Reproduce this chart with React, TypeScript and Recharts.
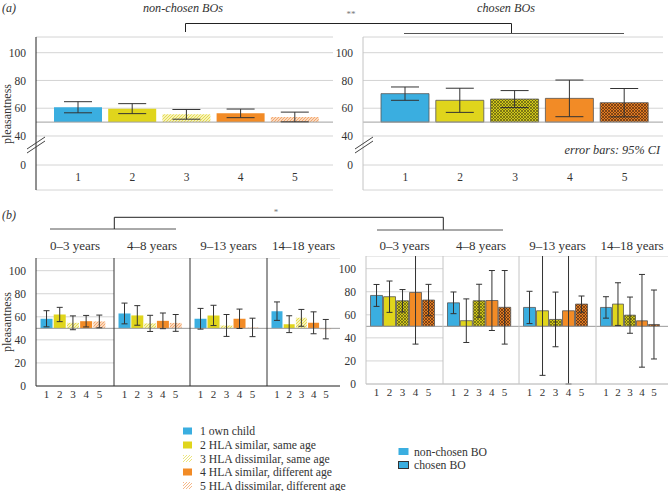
import React from "react";
import { BarChart, Bar, XAxis, YAxis, CartesianGrid, ErrorBar, Cell, ReferenceLine } from "recharts";

const categories = ["1", "2", "3", "4", "5"];
const legendLabels = [
  "1 own child",
  "2 HLA similar, same age",
  "3 HLA dissimilar, same age",
  "4 HLA similar, different age",
  "5 HLA dissimilar, different age",
];
const ageGroups = ["0–3 years", "4–8 years", "9–13 years", "14–18 years"];
const aTicks = [19.1, 40, 60, 80, 100];
const bTicks = [0, 20, 40, 60, 80, 100];

// (a) pooled
const nonChosenMeans = [60.7, 59.7, 55.6, 56.3, 53.7];
const nonChosenCI = [4, 3.6, 3.5, 3.1, 3.5];
const chosenMeans = [70.5, 65.7, 66.6, 67.1, 64];
const chosenCI = [4.8, 8.7, 6.1, 13.2, 10.2];

// (b) by age of the child
const nonChosenAgeMeans = [
  [58.3, 62, 54.8, 56.2, 56],
  [62.9, 61.2, 54.3, 56.5, 54.7],
  [58.3, 61.2, 52.5, 58.3, 50.8],
  [64.9, 53.6, 59.1, 54.8, 49.3],
];
const nonChosenAgeCI = [
  [7, 6.2, 6, 5, 5.5],
  [9, 8.5, 7, 6.8, 7.3],
  [9, 8.8, 9.5, 8.4, 8],
  [8, 7.3, 7.3, 9.5, 8.4],
];
const chosenAgeMeans = [
  [76.8, 75.7, 72.2, 79.4, 72.8],
  [70.4, 54.9, 72.2, 72.4, 66.5],
  [66.4, 63.5, 56, 63.5, 69.3],
  [66.4, 69.3, 59.7, 54.8, 51.6],
];
const chosenAgeCI = [
  [9.5, 13.6, 9.7, 44.8, 13.6],
  [9.4, 18.9, 14.3, 26, 31.9],
  [14, 56, 23.7, 63.5, 7],
  [9.3, 18.5, 15.7, 40.2, 29.9],
];

const BASE = 50;
const FONT = "Liberation Serif, Times New Roman, serif";
const TEXT = "#333";
const ncFills = ["#3aaee0", "#e0d51c", "url(#ncHatch3)", "#f28b26", "url(#ncHatch5)"];
const cFills = ["#3aaee0", "#e0d51c", "url(#cHatch3)", "#f28b26", "url(#cHatch5)"];

const rows = (means: number[], ci: number[]) =>
  categories.map((cat, i) => ({ cat, range: [BASE, means[i]], ci: ci[i] }));

const serif = { fontFamily: FONT };

const ATick = (props: any) => (
  <text x={props.x} y={props.y} dy={-11} textAnchor="middle" fontSize={11.5} fill={TEXT} style={serif}>
    {props.payload.value}
  </text>
);

function PanelA({ left, width, yw, means, ci, fills, stroke, axisColor }: any) {
  const data = rows(means, ci);
  return (
    <div style={{ position: "absolute", left, top: 0 }}>
      <BarChart width={width} height={200} data={data} margin={{ top: 37, right: 0, bottom: 0, left: 0 }}>
        <CartesianGrid vertical={false} stroke="#d4d4d4" />
        <XAxis dataKey="cat" axisLine={false} tickLine={false} tickSize={0} height={10} interval={0}
          padding={{ left: 15, right: 11 }} tick={<ATick />} />
        <YAxis type="number" domain={[1.1, 111.3]} allowDataOverflow ticks={aTicks} interval={0}
          tickFormatter={(v: number) => (v < 30 ? "0" : String(v))} width={yw} tickLine={false} tickMargin={4}
          axisLine={{ stroke: axisColor }} tick={{ fontSize: 11.5, fill: TEXT, style: serif }} />
        <ReferenceLine y={BASE} stroke="#a0a0a0" />
        <Bar dataKey="range" barSize={48} isAnimationActive={false}>
          {data.map((d, i) => (
            <Cell key={d.cat} fill={fills[i]} stroke={stroke} strokeWidth={stroke ? 0.8 : 0} />
          ))}
          <ErrorBar dataKey="ci" width={14} stroke="#333" strokeWidth={1} />
        </Bar>
      </BarChart>
    </div>
  );
}

function AgePanel({ left, top, width, yw, showTicks, means, ci, fills, stroke, axisColor }: any) {
  const data = rows(means, ci);
  return (
    <div style={{ position: "absolute", left, top }}>
      <BarChart width={width} height={148} data={data} margin={{ top: 0, right: 0, bottom: 0, left: 0 }}
        barCategoryGap="4%">
        <CartesianGrid vertical={false} stroke="#d4d4d4" />
        <XAxis dataKey="cat" axisLine={{ stroke: axisColor }} tickLine={false} tickSize={0} tickMargin={4}
          height={20} interval={0} padding={{ left: 4, right: 8 }}
          tick={{ fontSize: 11, fill: TEXT, style: serif }} />
        <YAxis type="number" domain={[0, 111]} allowDataOverflow ticks={bTicks} interval={0} width={yw}
          tickLine={false} tickMargin={4} axisLine={{ stroke: axisColor }}
          tick={showTicks ? { fontSize: 11.5, fill: TEXT, style: serif } : false} />
        <ReferenceLine y={BASE} stroke="#999" />
        <Bar dataKey="range" isAnimationActive={false}>
          {data.map((d, i) => (
            <Cell key={d.cat} fill={fills[i]} stroke={stroke} strokeWidth={stroke ? 0.8 : 0} />
          ))}
          <ErrorBar dataKey="ci" width={3} stroke="#333" strokeWidth={1} />
        </Bar>
      </BarChart>
    </div>
  );
}

const leftPlots = [36, 114, 190, 267, 340];
const rightPlots = [366, 443, 519, 596, 668];

function AgeGroup({ plots, top, meansList, ciList, fills, stroke, axisColor }: any) {
  return (
    <>
      {ageGroups.map((g, k) => {
        const yw = k === 0 ? 36 : 1;
        return (
          <AgePanel key={g} left={plots[k] - yw} top={top} width={plots[k + 1] - plots[k] + yw} yw={yw}
            showTicks={k === 0} means={meansList[k]} ci={ciList[k]} fills={fills} stroke={stroke}
            axisColor={axisColor} />
        );
      })}
    </>
  );
}

function Patterns() {
  return (
    <svg width={0} height={0} style={{ position: "absolute" }}>
      <defs>
        <pattern id="ncHatch3" width="3" height="3" patternUnits="userSpaceOnUse">
          <rect width="3" height="3" fill="#f7f2b8" />
          <path d="M-1,1 L1,-1 M0,3 L3,0 M2,4 L4,2" stroke="#e2d844" strokeWidth="0.9" />
        </pattern>
        <pattern id="ncHatch5" width="3" height="3" patternUnits="userSpaceOnUse">
          <rect width="3" height="3" fill="#fbd9bf" />
          <path d="M-1,1 L1,-1 M0,3 L3,0 M2,4 L4,2" stroke="#f2a466" strokeWidth="0.9" />
        </pattern>
        <pattern id="cHatch3" width="3" height="3" patternUnits="userSpaceOnUse">
          <rect width="3" height="3" fill="#cfc61a" />
          <path d="M0,0 L3,3 M0,3 L3,0" stroke="#5c5810" strokeWidth="0.7" />
        </pattern>
        <pattern id="cHatch5" width="3" height="3" patternUnits="userSpaceOnUse">
          <rect width="3" height="3" fill="#e07b22" />
          <path d="M0,0 L3,3 M0,3 L3,0" stroke="#5a2e10" strokeWidth="0.7" />
        </pattern>
        <pattern id="lgHatch3" width="3" height="3" patternUnits="userSpaceOnUse">
          <rect width="3" height="3" fill="#fff" />
          <path d="M-1,1 L1,-1 M0,3 L3,0 M2,4 L4,2" stroke="#ece47a" strokeWidth="1" />
        </pattern>
        <pattern id="lgHatch5" width="3" height="3" patternUnits="userSpaceOnUse">
          <rect width="3" height="3" fill="#fff" />
          <path d="M-1,1 L1,-1 M0,3 L3,0 M2,4 L4,2" stroke="#f5b88a" strokeWidth="1" />
        </pattern>
      </defs>
    </svg>
  );
}

const legendFills = ["#3aaee0", "#e0d51c", "url(#lgHatch3)", "#f28b26", "url(#lgHatch5)"];
const legendY = [431, 445, 458.5, 472, 485.5];

function Overlay() {
  const t = { style: serif, fill: TEXT };
  return (
    <svg width={669} height={491} style={{ position: "absolute", left: 0, top: 0, pointerEvents: "none" }}>
      <text x={2} y={12} fontSize={12} fontStyle="italic" {...t}>(a)</text>
      <text x={183} y={12} fontSize={12.2} fontStyle="italic" textAnchor="middle" {...t}>non-chosen BOs</text>
      <text x={506} y={12} fontSize={12.2} fontStyle="italic" textAnchor="middle" {...t}>chosen BOs</text>
      <text x={351} y={17} fontSize={9} textAnchor="middle" style={serif} fill="#777">**</text>
      <path d="M185.5,32 V23.5 H511.5 V33.5" fill="none" stroke="#222" />
      <path d="M404,33.5 H624" stroke="#555" />
      <path d="M27,149 L45,137 M27,153 L45,141" stroke="#444" />
      <path d="M355,149 L373,137 M355,153 L373,141" stroke="#444" />
      <text x={660} y={153.5} fontSize={12.3} fontStyle="italic" textAnchor="end" {...t}>error bars: 95% CI</text>
      <text transform="translate(11,114) rotate(-90)" fontSize={12} textAnchor="middle" {...t}>pleasantness</text>

      <text x={2} y={219} fontSize={12} fontStyle="italic" {...t}>(b)</text>
      <text x={276} y={215} fontSize={9} textAnchor="middle" style={serif} fill="#777">*</text>
      <path d="M50,229 H176" stroke="#555" />
      <path d="M114.3,229 V217.3 H443.3 V230" fill="none" stroke="#222" />
      <path d="M377,230 H503" stroke="#555" />
      {ageGroups.map((g, k) => (
        <text key={"l" + g} x={(leftPlots[k] + leftPlots[k + 1]) / 2} y={249.5} fontSize={13} textAnchor="middle" {...t}>{g}</text>
      ))}
      {ageGroups.map((g, k) => (
        <text key={"r" + g} x={(rightPlots[k] + rightPlots[k + 1]) / 2} y={249.5} fontSize={13} textAnchor="middle" {...t}>{g}</text>
      ))}
      <text transform="translate(11,322) rotate(-90)" fontSize={12} textAnchor="middle" {...t}>pleasantness</text>

      {legendLabels.map((l, i) => (
        <g key={l}>
          <rect x={183} y={legendY[i] - 3.5} width={9} height={7} fill={legendFills[i]} />
          <text x={200} y={legendY[i] + 4} fontSize={11.7} {...t}>{l}</text>
        </g>
      ))}
      <rect x={398.5} y={448} width={10} height={7} fill="#3aaee0" />
      <text x={414} y={455.7} fontSize={11.7} {...t}>non-chosen BO</text>
      <rect x={398.5} y={461.5} width={10} height={7} fill="#3aaee0" stroke="#333" strokeWidth={1} />
      <text x={414} y={469} fontSize={11.7} {...t}>chosen BO</text>
    </svg>
  );
}

export default function App() {
  return (
    <div style={{ position: "absolute", left: 0, top: 0, width: 669, height: 491, background: "#fff", overflow: "hidden", fontFamily: FONT }}>
      <Patterns />
      <PanelA left={0} width={333} yw={36} means={nonChosenMeans} ci={nonChosenCI} fills={ncFills}
        stroke={undefined} axisColor="#222" />
      <PanelA left={330} width={333} yw={33} means={chosenMeans} ci={chosenCI} fills={cFills}
        stroke="#555" axisColor="#c4c4c4" />
      <AgeGroup plots={leftPlots} top={258} meansList={nonChosenAgeMeans} ciList={nonChosenAgeCI}
        fills={ncFills} stroke={undefined} axisColor="#333" />
      <AgeGroup plots={rightPlots} top={256} meansList={chosenAgeMeans} ciList={chosenAgeCI}
        fills={cFills} stroke="#555" axisColor="#c4c4c4" />
      <Overlay />
    </div>
  );
}
